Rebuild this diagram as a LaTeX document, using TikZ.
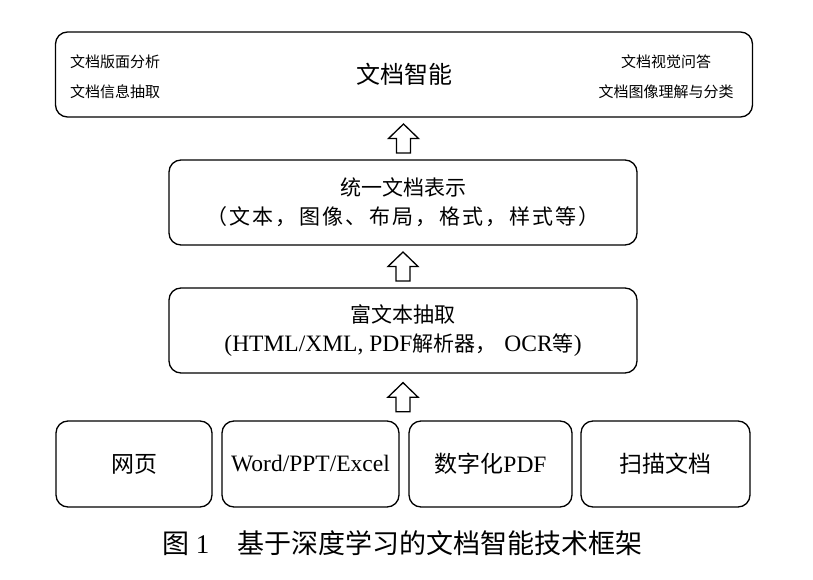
\documentclass[tikz,border=0pt]{standalone}
\usepackage{fontspec}
\setmainfont{Liberation Serif}
\newfontfamily\cjk{Noto Sans CJK SC}
\newfontfamily\cjkwide[LetterSpace=11]{Noto Sans CJK SC}
\usetikzlibrary{calc}
\newcommand\midc[1]{{\cjk\fontsize{21}{29}\selectfont #1}}
\newcommand\botc[1]{{\cjk\fontsize{23}{29}\selectfont #1}}
\tikzset{
  box/.style={draw, line width=1.3pt, rounded corners=12pt, inner sep=0pt, align=center,
    font=\fontsize{23.5}{29}\selectfont},
  smalltxt/.style={font=\cjk\fontsize{15}{17}\selectfont, inner sep=0pt},
  hollowup/.pic={
    \draw[line width=1.3pt, line join=miter, fill=white]
      (0,-14.5) -- (15,0) -- (7,0) -- (7,14.5) -- (-7,14.5) -- (-7,0) -- (-15,0) -- cycle;
  }
}
\begin{document}
\begin{tikzpicture}[x=1pt,y=-1pt]
\useasboundingbox[fill=white] (0,0) rectangle (813,580);
% top box
\node[box, minimum width=697pt, minimum height=85pt] (top) at (404,74.5)
  {\cjk\fontsize{24}{28}\selectfont 文档智能};
\node[smalltxt] (l1) at (115,62) {文档版面分析};
\node[smalltxt] (l2) at (115,92) {文档信息抽取};
\node[smalltxt] (r1) at (666,62) {文档视觉问答};
\node[smalltxt] (r2) at (666,92) {文档图像理解与分类};
% middle boxes
\node[box, minimum width=468pt, minimum height=85pt] (uni) at (403,202.5)
  {\midc{统一文档表示}\\[0pt]{\cjkwide\fontsize{21}{29}\selectfont （文本，图像、布局，格式，样式等）}};
\node[box, minimum width=468pt, minimum height=85pt] (rich) at (403,330.5)
  {\midc{富文本抽取}\\[0pt](HTML/XML, PDF\midc{解析器，}\hspace{8pt}OCR\midc{等})};
% bottom boxes
\node[box, minimum width=156pt, minimum height=86pt] (web) at (134,464) {\botc{网页}};
\node[box, minimum width=177pt, minimum height=86pt] (office) at (310.5,464) {Word/PPT/Excel};
\node[box, minimum width=163pt, minimum height=86pt] (pdf) at (490.5,464) {\botc{数字化}PDF};
\node[box, minimum width=169pt, minimum height=86pt] (scan) at (665.5,464) {\botc{扫描文档}};
% hollow arrows
\coordinate (a1) at ($(uni.north)!0.5!(top.south)$);
\coordinate (a2) at ($(rich.north)!0.5!(uni.south)$);
\coordinate (a3) at ($(rich.south)+(0,23.5)$);
\pic at (a1) {hollowup};
\pic at (a2) {hollowup};
\pic at (a3) {hollowup};
% caption
\node[font=\fontsize{27}{30}\selectfont, inner sep=0pt] (cap) at (402.5,543)
  {{\cjk 图}\hspace{6pt}1\hspace{28pt}{\cjk 基于深度学习的文档智能技术框架}};
\end{tikzpicture}
\end{document}
